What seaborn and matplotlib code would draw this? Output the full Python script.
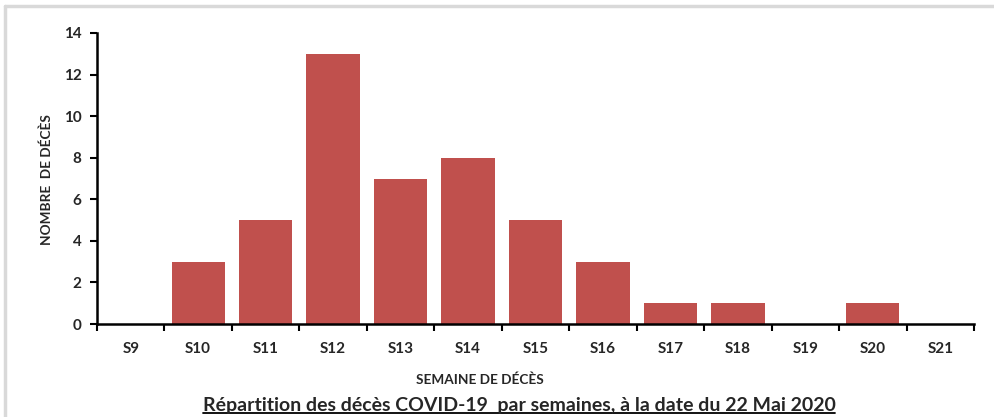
import matplotlib
matplotlib.use("Agg")
import matplotlib.pyplot as plt
import seaborn as sns
import pandas as pd
from matplotlib.lines import Line2D

weeks = ["S9", "S10", "S11", "S12", "S13", "S14", "S15", "S16", "S17", "S18", "S19", "S20", "S21"]
deaths = [0, 3, 5, 13, 7, 8, 5, 3, 1, 1, 0, 1, 0]
yticks = [0, 2, 4, 6, 8, 10, 12, 14]

sns.set_style("white")
plt.rcParams['font.family'] = ['Lato', 'DejaVu Sans']

df = pd.DataFrame({"semaine": weeks, "deces": deaths})

fig = plt.figure(figsize=(9.94, 4.17), dpi=100)
ax = fig.add_axes([97/994, 1-324/417, (974-97)/994, (324-33)/417])
sns.barplot(data=df, x="semaine", y="deces", color="#C0504D", saturation=1,
            width=0.79, ax=ax, edgecolor="none")

ax.set_xlim(-0.5, len(weeks) - 0.5)
ax.set_ylim(0, 14)
ax.set_yticks(yticks)
ax.set_yticklabels([str(v) for v in yticks], fontsize=11, fontweight="bold")
ax.set_xticks(range(len(weeks)))
ax.set_xticklabels(weeks, fontsize=11, fontweight="bold")
ax.tick_params(axis="x", which="major", length=0, pad=13)
ax.set_xticks([i - 0.5 for i in range(len(weeks) + 1)], minor=True)
ax.tick_params(axis="x", which="minor", length=5, width=1.5, color="black", direction="out")
ax.tick_params(axis="y", length=5, width=1.5, color="black", direction="out", pad=6)
ax.xaxis.set_ticks_position("bottom")
ax.yaxis.set_ticks_position("left")
for s in ["top", "right"]:
    ax.spines[s].set_visible(False)
for s in ["left", "bottom"]:
    ax.spines[s].set_color("black")
    ax.spines[s].set_linewidth(1.8)
ax.set_xlabel("")
ax.set_ylabel("")

fig.text(47/994, 1-180/417, "NOMBRE  DE DÉCÈS", rotation=90, ha="center", va="center",
         fontsize=9.8, fontweight="bold")
fig.text(480/994, 1-380/417, "SEMAINE DE DÉCÈS", ha="center", va="center",
         fontsize=9.8, fontweight="bold")
title = fig.text(519/994, 1-406/417, "Répartition des décès COVID-19  par semaines, à la date du 22 Mai 2020",
                 ha="center", va="center", fontsize=14, fontweight="bold")

fig.canvas.draw()
bb = title.get_window_extent().transformed(fig.transFigure.inverted())
fig.add_artist(Line2D([bb.x0, bb.x1], [bb.y0 + 0.003, bb.y0 + 0.003], color="black",
                      linewidth=1.3, transform=fig.transFigure))

# light frame
fig.add_artist(Line2D([5/994, 5/994], [0, 1-6/417], color="#D9D9D9", linewidth=2.5, transform=fig.transFigure))
fig.add_artist(Line2D([5/994, 1], [1-6/417, 1-6/417], color="#D9D9D9", linewidth=2.5, transform=fig.transFigure))

fig.savefig("out.png", dpi=100)
